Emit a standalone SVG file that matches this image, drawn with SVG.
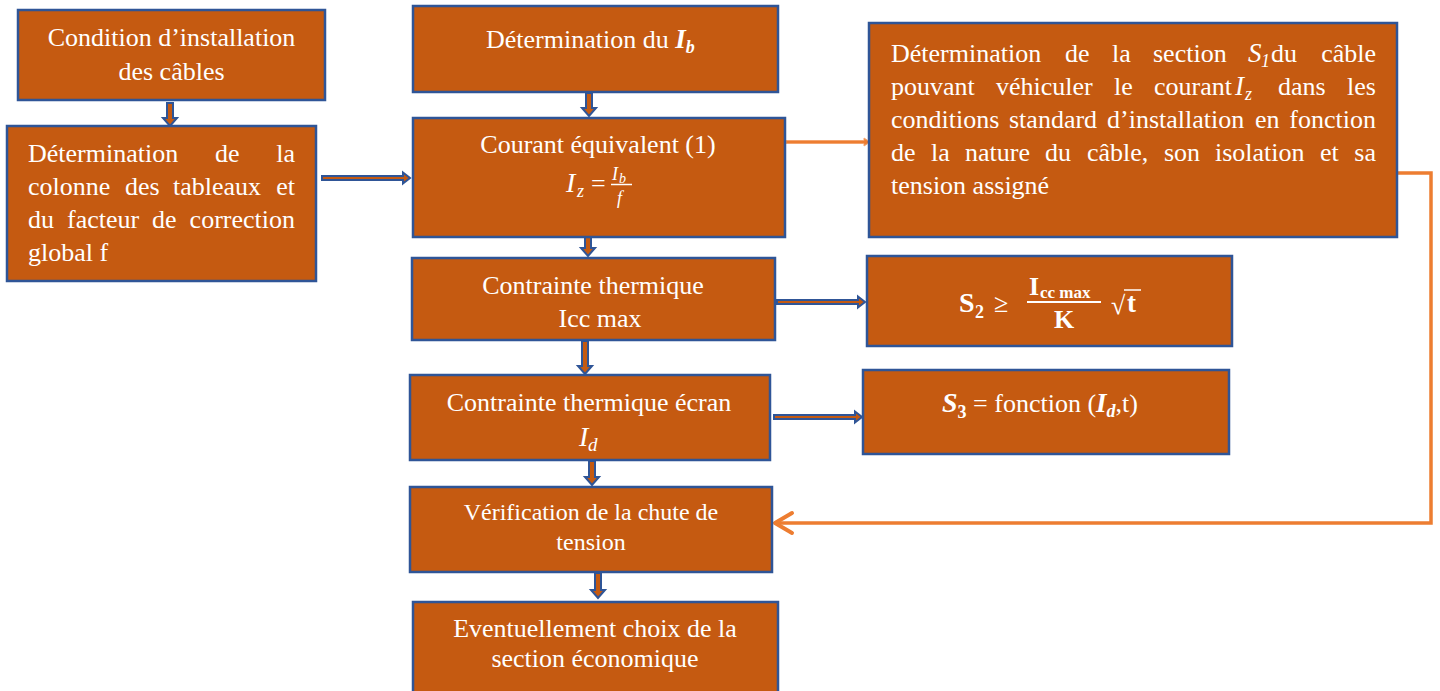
<svg xmlns="http://www.w3.org/2000/svg" width="1440" height="691" viewBox="0 0 1440 691">
<style>
.box{fill:#C55A11;stroke:#2F5597;stroke-width:2.5}
.t{font-family:"Liberation Serif","Times New Roman",serif;font-size:26px;fill:#FFFFFF}
.m{text-anchor:middle}
.e{text-anchor:end}
.i{font-style:italic}
.b{font-weight:bold}
.ba{fill:#C55A11;stroke:#2F5597;stroke-width:2;stroke-linejoin:miter}
.oa{fill:#ED7D31;stroke:#F4A46E;stroke-width:1}
.ol{fill:none;stroke:#ED7D31;stroke-width:3.5}
.oh{fill:none;stroke:#ED7D31;stroke-width:4;stroke-linecap:round;stroke-linejoin:round}
</style>
<rect width="1440" height="691" fill="#FFFFFF"/>

<g id="connectors">
  <polygon class="ba" points="167,103 173,103 173,118 177,118 170,126 163,118 167,118"/>
  <polygon class="ba" points="586,93 592,93 592,108 596,108 589,116 582,108 586,108"/>
  <polygon class="ba" points="585,237 591,237 591,248 595,248 588,256 581,248 585,248"/>
  <polygon class="ba" points="582,341 588,341 588,366 592,366 585,374 578,366 582,366"/>
  <polygon class="ba" points="589,461 595,461 595,477 599,477 592,485 585,477 589,477"/>
  <polygon class="ba" points="595,573 601,573 601,590 605,590 598,598 591,590 595,590"/>
  <polygon class="ba" points="322,176 403,176 403,172.5 410,178 403,183.5 403,180 322,180"/>
  <polygon class="ba" points="777,300 858,300 858,296.5 865,302 858,307.5 858,304 777,304"/>
  <polygon class="ba" points="774,415 855,415 855,411.5 862,417 855,422.5 855,419 774,419"/>
  <polygon class="oa" points="786,140.5 864,140.5 864,138 870,142 864,146 864,143.5 786,143.5"/>
  <polyline class="ol" points="1397,173 1431,173 1431,523 776,523"/>
  <polyline class="oh" points="792,513 775,523 792,533"/>
</g>

<g id="node-condition">
  <rect class="box" x="18" y="10" width="307" height="90"/>
  <text class="t m" x="171.5" y="46">Condition d’installation</text>
  <text class="t m" x="171.5" y="80">des câbles</text>
</g>

<g id="node-colonne">
  <rect class="box" x="7" y="126" width="309" height="155"/>
  <text class="t" x="28" y="162">Détermination</text>
  <text class="t" x="215" y="162">de</text>
  <text class="t e" x="295" y="162">la</text>
  <text class="t" x="28" y="195">colonne</text>
  <text class="t" x="125" y="195">des</text>
  <text class="t" x="173" y="195">tableaux</text>
  <text class="t e" x="295" y="195">et</text>
  <text class="t" x="28" y="228">du</text>
  <text class="t" x="67" y="228">facteur</text>
  <text class="t" x="152" y="228">de</text>
  <text class="t e" x="295" y="228">correction</text>
  <text class="t" x="28" y="261">global f</text>
</g>

<g id="node-ib">
  <rect class="box" x="413" y="6" width="365" height="86"/>
  <text class="t" x="486" y="48">Détermination du <tspan class="i b" style="font-size:27px">I</tspan><tspan class="i b" style="font-size:18px" dy="5">b</tspan></text>
</g>

<g id="node-courant">
  <rect class="box" x="413" y="118" width="372" height="119"/>
  <text class="t m" x="598" y="153">Courant équivalent (1)</text>
  <text class="t i" x="566" y="192" style="font-size:28px">I</text>
  <text class="t i" x="577" y="197" style="font-size:18px">z</text>
  <text class="t" x="591" y="192">=</text>
  <text class="t i" x="612" y="180" style="font-size:18px">I</text>
  <text class="t i" x="619" y="183" style="font-size:14px">b</text>
  <line x1="611" y1="184.5" x2="632" y2="184.5" stroke="#FFFFFF" stroke-width="1.5"/>
  <text class="t i" x="617" y="204" style="font-size:18px">f</text>
</g>

<g id="node-icc">
  <rect class="box" x="412" y="258" width="363" height="82"/>
  <text class="t m" x="593" y="294">Contrainte thermique</text>
  <text class="t m" x="600" y="327">Icc max</text>
</g>

<g id="node-ecran">
  <rect class="box" x="410" y="375" width="360" height="85"/>
  <text class="t m" x="589" y="411">Contrainte thermique écran</text>
  <text class="t i" x="579" y="446" style="font-size:28px">I</text>
  <text class="t i" x="588" y="451" style="font-size:19px">d</text>
</g>

<g id="node-chute">
  <rect class="box" x="410" y="487" width="362" height="85"/>
  <text class="t m" x="591" y="520" style="font-size:24px">Vérification de la chute de</text>
  <text class="t m" x="591" y="550" style="font-size:24px">tension</text>
</g>

<g id="node-economique">
  <rect class="box" x="413" y="602" width="365" height="92"/>
  <text class="t m" x="595" y="637">Eventuellement choix de la</text>
  <text class="t m" x="595" y="667">section économique</text>
</g>

<g id="node-s1">
  <rect class="box" x="869" y="23" width="528" height="214"/>
  <text class="t" x="891" y="62">Détermination</text>
  <text class="t" x="1065" y="62">de</text>
  <text class="t" x="1112" y="62">la</text>
  <text class="t" x="1153" y="62">section</text>
  <text class="t i" x="1248" y="62" style="font-size:27px">S</text>
  <text class="t i" x="1261" y="67" style="font-size:18px">1</text>
  <text class="t" x="1271" y="62">du</text>
  <text class="t e" x="1376" y="62">câble</text>
  <text class="t" x="891" y="95">pouvant</text>
  <text class="t" x="996" y="95">véhiculer</text>
  <text class="t" x="1114" y="95">le</text>
  <text class="t" x="1154" y="95">courant</text>
  <text class="t i" x="1235" y="95" style="font-size:27px">I</text>
  <text class="t i" x="1245" y="100" style="font-size:18px">z</text>
  <text class="t" x="1278" y="95">dans</text>
  <text class="t e" x="1376" y="95">les</text>
  <text class="t" x="891" y="128">conditions</text>
  <text class="t" x="1009" y="128">standard</text>
  <text class="t" x="1107" y="128">d’installation</text>
  <text class="t" x="1255" y="128">en</text>
  <text class="t e" x="1376" y="128">fonction</text>
  <text class="t" x="891" y="161">de</text>
  <text class="t" x="931" y="161">la</text>
  <text class="t" x="965" y="161">nature</text>
  <text class="t" x="1045" y="161">du</text>
  <text class="t" x="1087" y="161">câble,</text>
  <text class="t" x="1164" y="161">son</text>
  <text class="t" x="1215" y="161">isolation</text>
  <text class="t" x="1320" y="161">et</text>
  <text class="t e" x="1376" y="161">sa</text>
  <text class="t" x="891" y="194">tension assigné</text>
</g>

<g id="node-s2">
  <rect class="box" x="867" y="256" width="365" height="90"/>
  <text class="t b" x="959" y="312" style="font-size:28px">S</text>
  <text class="t b" x="975" y="318" style="font-size:18px">2</text>
  <text class="t" x="994" y="312">≥</text>
  <text class="t b" x="1029" y="295">I</text>
  <text class="t b" x="1040" y="298" style="font-size:17px">cc max</text>
  <line x1="1027" y1="302" x2="1101" y2="302" stroke="#FFFFFF" stroke-width="2"/>
  <text class="t b m" x="1064" y="328">K</text>
  <text class="t" x="1111" y="314">√</text>
  <line x1="1124" y1="290" x2="1141" y2="290" stroke="#FFFFFF" stroke-width="1.5"/>
  <text class="t b" x="1127" y="312" style="font-size:27px">t</text>
</g>

<g id="node-s3">
  <rect class="box" x="863" y="370" width="366" height="84"/>
  <text class="t" x="942" y="412"><tspan class="b i" style="font-size:28px">S</tspan><tspan class="b" style="font-size:18px" dy="6">3</tspan><tspan dy="-6"> = fonction (</tspan><tspan class="b i" style="font-size:27px">I</tspan><tspan class="b i" style="font-size:18px" dy="5">d</tspan><tspan dy="-5">,t)</tspan></text>
</g>
</svg>
